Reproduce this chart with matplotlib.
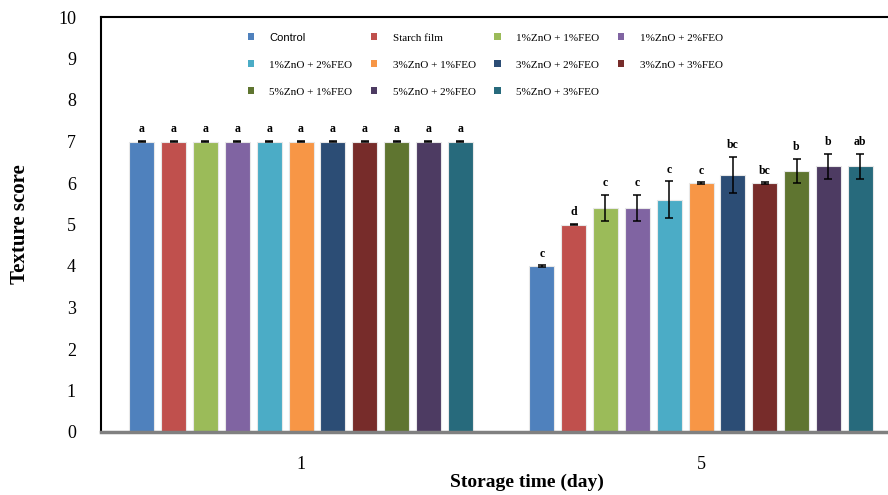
import matplotlib
matplotlib.use("Agg")
import matplotlib.pyplot as plt
import numpy as np

days = ["1", "5"]
series = ["Control", "Starch film", "1%ZnO + 1%FEO", "1%ZnO + 2%FEO",
          "1%ZnO + 2%FEO", "3%ZnO + 1%FEO", "3%ZnO + 2%FEO", "3%ZnO + 3%FEO",
          "5%ZnO + 1%FEO", "5%ZnO + 2%FEO", "5%ZnO + 3%FEO"]
colors = ["#4F81BD", "#C0504D", "#9BBB59", "#8064A2", "#4BACC6", "#F79646",
          "#2C4D75", "#772C2A", "#5F7530", "#4D3B62", "#276A7C"]
day1_vals = [7.0, 7.0, 7.0, 7.0, 7.0, 7.0, 7.0, 7.0, 7.0, 7.0, 7.0]
day1_err = [0.02] * 11
day5_vals = [4.0, 5.0, 5.4, 5.4, 5.6, 6.0, 6.2, 6.0, 6.3, 6.4, 6.4]
day5_err = [0.02, 0.02, 0.31, 0.31, 0.44, 0.02, 0.43, 0.02, 0.29, 0.31, 0.31]
day1_letters = ["a"] * 11
day5_letters = ["c", "d", "c", "c", "c", "c", "bc", "bc", "b", "b", "ab"]
yticks = [0, 1, 2, 3, 4, 5, 6, 7, 8, 9, 10]

serif = ["Liberation Serif", "DejaVu Serif"]

fig = plt.figure(figsize=(8.88, 4.95), dpi=100)
ax = fig.add_axes([101/888, 63/495, 800/888, 415/495])

n = len(series)
step = 0.0796
width = 0.0625
xg = np.arange(len(days))
handles = []
for i in range(n):
    off = (i - (n - 1) / 2) * step
    vals = [day1_vals[i], day5_vals[i]]
    errs = [day1_err[i], day5_err[i]]
    b = ax.bar(xg + off, vals, width=width, color=colors[i],
               edgecolor="#e8e8e8", linewidth=0.8, label=series[i], zorder=2)
    ax.errorbar(xg + off, vals, yerr=errs, fmt="none", ecolor="black",
                elinewidth=1.1, capsize=3, capthick=1.1, zorder=3)
    handles.append(b)
    for j, (v, e, lab) in enumerate(zip(vals, errs, [day1_letters[i], day5_letters[i]])):
        ax.annotate(lab, (xg[j] + off, v + e), xytext=(0, 4), textcoords="offset points",
                    ha="center", va="bottom", fontsize=8.5, fontweight="bold",
                    family=serif)

ax.set_xlim(-0.5, 1.5)
ax.set_ylim(0, 10)
ax.set_yticks(yticks)
ax.set_xticks(xg)
ax.set_xticklabels(days)
ax.tick_params(axis="both", length=0, labelsize=13)
ax.tick_params(axis="y", pad=18)
ax.tick_params(axis="x", pad=17)
for t in ax.get_xticklabels() + ax.get_yticklabels():
    t.set_family(serif)

for s in ["left", "top"]:
    ax.spines[s].set_color("black")
    ax.spines[s].set_linewidth(1.5)
ax.spines["bottom"].set_color("#808080")
ax.spines["bottom"].set_linewidth(2.5)
ax.spines["right"].set_visible(False)

ax.set_ylabel("Texture score", fontsize=15, fontweight="bold", family=serif, labelpad=20)
ax.set_xlabel("Storage time (day)", fontsize=14, fontweight="bold", family=serif, labelpad=1)
ax.xaxis.label.set_x(0.5325)

# legend, row-major order emulated for column-major matplotlib legend
order = [0, 4, 8, 1, 5, 9, 2, 6, 10, 3, 7]
leg = ax.legend([handles[k] for k in order], [series[k] for k in order],
                ncol=4, loc="upper left", bbox_to_anchor=(242/888, 1 - 27/495),
                bbox_transform=fig.transFigure, frameon=False,
                prop={"family": serif, "size": 8},
                handlelength=0.55, handleheight=0.55, handletextpad=1.4,
                columnspacing=1.68, labelspacing=1.6, borderpad=0)
for p in leg.get_patches():
    p.set_edgecolor("none")
for t in leg.get_texts():
    if t.get_text() == "Control":
        t.set_family(["Liberation Sans", "DejaVu Sans"])

fig.savefig("out.png", dpi=100)
